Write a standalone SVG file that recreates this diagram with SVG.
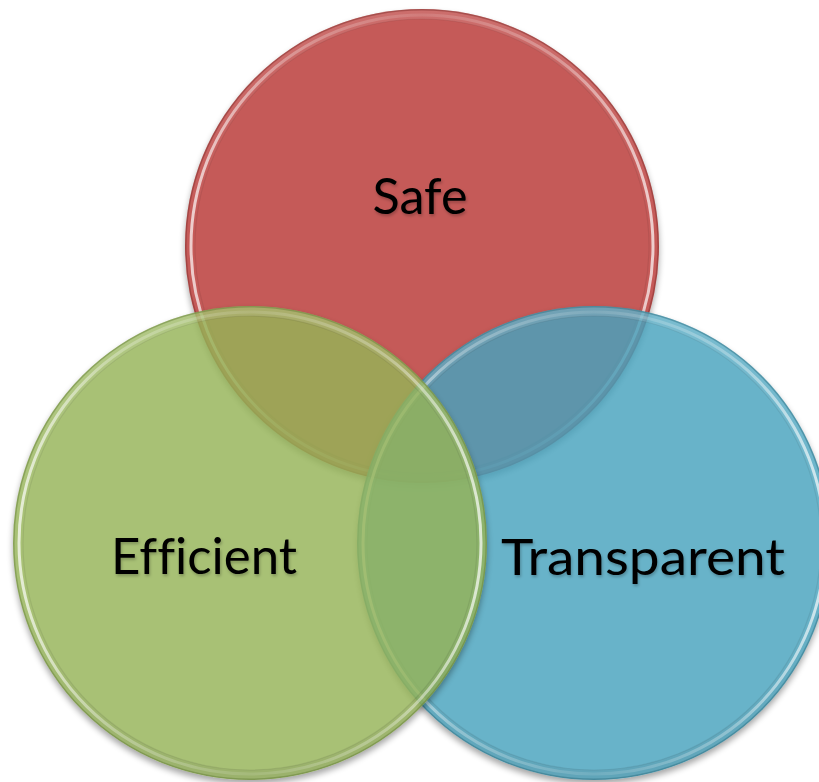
<svg xmlns="http://www.w3.org/2000/svg" width="819" height="782" viewBox="0 0 819 782">
<defs>
<style>
.fill{fill-opacity:0.82}
.edge{fill:none;stroke-width:1.5;stroke-opacity:0.45}
.band{fill:none;stroke:url(#shade);stroke-width:10}
.hl{fill:none;stroke:url(#hl);stroke-width:3}
.inner{fill:none;stroke:#000;stroke-opacity:0.07;stroke-width:1.2}
.shadow{fill:#000;opacity:0.35}
.label{font-family:Lato,'Open Sans','DejaVu Sans',sans-serif;font-size:50px;fill:#000;text-anchor:middle;font-variant-ligatures:none;font-feature-settings:"liga" 0,"clig" 0}
</style>
<linearGradient id="hl" x1="0" y1="0" x2="1" y2="0">
<stop offset="0" stop-color="#fff" stop-opacity="0.7"/>
<stop offset="0.2" stop-color="#fff" stop-opacity="0.3"/>
<stop offset="0.5" stop-color="#fff" stop-opacity="0.1"/>
<stop offset="0.8" stop-color="#fff" stop-opacity="0.3"/>
<stop offset="1" stop-color="#fff" stop-opacity="0.7"/>
</linearGradient>
<linearGradient id="shade" x1="0" y1="0" x2="0" y2="1">
<stop offset="0" stop-color="#fff" stop-opacity="0.12"/>
<stop offset="0.45" stop-color="#fff" stop-opacity="0"/>
<stop offset="0.6" stop-color="#000" stop-opacity="0"/>
<stop offset="1" stop-color="#000" stop-opacity="0.08"/>
</linearGradient>
<filter id="blur" x="-10%" y="-10%" width="120%" height="120%">
<feGaussianBlur stdDeviation="3"/>
</filter>
<filter id="tshadow" x="-10%" y="-30%" width="120%" height="160%">
<feDropShadow dx="1" dy="2" stdDeviation="1.5" flood-color="#000" flood-opacity="0.25"/>
</filter>
<mask id="mSafe" maskUnits="userSpaceOnUse" x="0" y="0" width="819" height="782">
<rect width="819" height="782" fill="#fff"/><circle cx="422" cy="246" r="237" fill="#000"/>
</mask>
<mask id="mTrans" maskUnits="userSpaceOnUse" x="0" y="0" width="819" height="782">
<rect width="819" height="782" fill="#fff"/><circle cx="594" cy="543" r="237" fill="#000"/>
</mask>
<mask id="mEff" maskUnits="userSpaceOnUse" x="0" y="0" width="819" height="782">
<rect width="819" height="782" fill="#fff"/><circle cx="250" cy="543" r="237" fill="#000"/>
</mask>
</defs>
<rect width="819" height="782" fill="#fff"/>

<g id="safe">
<circle class="shadow" cx="422" cy="250" r="237" filter="url(#blur)" mask="url(#mSafe)"/>
<circle class="fill" cx="422" cy="246" r="237" fill="#B83633"/>
<circle class="band" cx="422" cy="246" r="232"/>
<circle class="hl" cx="422" cy="246" r="231"/>
<circle class="inner" cx="422" cy="246" r="227"/>
<circle class="edge" cx="422" cy="246" r="236.2" stroke="#7a2a28"/>
<text class="label" x="420" y="214" textLength="95" lengthAdjust="spacingAndGlyphs" filter="url(#tshadow)">Safe</text>
</g>

<g id="transparent">
<circle class="shadow" cx="594" cy="547" r="237" filter="url(#blur)" mask="url(#mTrans)"/>
<circle class="fill" cx="594" cy="543" r="237" fill="#47A2BD"/>
<circle class="band" cx="594" cy="543" r="232"/>
<circle class="hl" cx="594" cy="543" r="231"/>
<circle class="inner" cx="594" cy="543" r="227"/>
<circle class="edge" cx="594" cy="543" r="236.2" stroke="#2a6a7c"/>
<text class="label" x="643" y="575" textLength="284" lengthAdjust="spacingAndGlyphs" filter="url(#tshadow)">Transparent</text>
</g>

<g id="efficient">
<circle class="shadow" cx="250" cy="547" r="237" filter="url(#blur)" mask="url(#mEff)"/>
<circle class="fill" cx="250" cy="543" r="237" fill="#95B357"/>
<circle class="band" cx="250" cy="543" r="232"/>
<circle class="hl" cx="250" cy="543" r="231"/>
<circle class="inner" cx="250" cy="543" r="227"/>
<circle class="edge" cx="250" cy="543" r="236.2" stroke="#5f7a32"/>
<text class="label" x="204" y="574" textLength="186" lengthAdjust="spacingAndGlyphs" filter="url(#tshadow)">Efficient</text>
</g>

<g id="connectors"/>
</svg>
